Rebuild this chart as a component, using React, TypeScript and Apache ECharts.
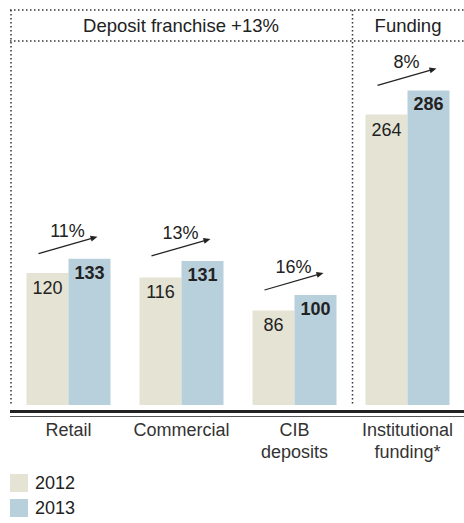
import React, { useEffect, useRef } from "react";
import * as echarts from "echarts";

const categories = ["Retail", "Commercial", "CIB\ndeposits", "Institutional\nfunding*"];
const values2012 = [120, 116, 86, 264];
const values2013 = [133, 131, 100, 286];
const growthLabels = ["11%", "13%", "16%", "8%"];
const groupTitles = ["Deposit franchise +13%", "Funding"];
const seriesNames = ["2012", "2013"];

const FONT = "'Liberation Sans', Arial, Helvetica, sans-serif";
const FS = 18;
const C2012 = "#e4e3d4";
const C2013 = "#b8cfdc";
const TXT = "#222";

export default function App() {
  const ref = useRef<HTMLDivElement>(null);
  useEffect(() => {
    if (!ref.current) return;
    const chart = echarts.init(ref.current, undefined, { renderer: "svg" });
    const dotted = { stroke: "#333", lineWidth: 1.5, lineDash: [1.5, 2.5] };
    const arrowData = categories.map((_, i) => [i, Math.max(values2012[i], values2013[i])]);
    chart.setOption({
      animation: false,
      textStyle: { fontFamily: FONT },
      grid: { left: 12, width: 454, top: 75, height: 330 },
      legend: {
        data: seriesNames,
        orient: "vertical",
        left: 10,
        top: 474,
        height: 60,
        padding: 0,
        itemWidth: 18,
        itemHeight: 18,
        itemGap: 7,
        icon: "rect",
        textStyle: { fontSize: FS, color: TXT, fontFamily: FONT, padding: [0, 0, 0, 2] },
      },
      xAxis: {
        type: "category",
        data: categories,
        axisLine: { show: false },
        axisTick: { show: false },
        axisLabel: {
          margin: 14,
          fontSize: FS,
          lineHeight: 22,
          color: "#333",
          fontFamily: FONT,
          interval: 0,
        },
      },
      yAxis: { type: "value", min: 0, max: 300, show: false, splitLine: { show: false } },
      series: [
        {
          name: seriesNames[0],
          type: "bar",
          data: values2012,
          barWidth: 42,
          barGap: "0%",
          itemStyle: { color: C2012 },
          label: {
            show: true,
            position: "insideTop",
            distance: 6,
            fontSize: FS,
            color: TXT,
            fontFamily: FONT,
          },
        },
        {
          name: seriesNames[1],
          type: "bar",
          data: values2013,
          barWidth: 42,
          barGap: "0%",
          itemStyle: { color: C2013 },
          label: {
            show: true,
            position: "insideTop",
            distance: 5,
            fontSize: FS,
            fontWeight: "bold",
            color: TXT,
            fontFamily: FONT,
          },
        },
        {
          type: "custom",
          silent: true,
          z: 10,
          data: arrowData,
          renderItem: (params: any, api: any) => {
            const p = api.coord([api.value(0), api.value(1)]);
            const cx = p[0];
            const y = p[1];
            const x1 = cx - 30, y1 = y - 5;
            const x2 = cx + 29, y2 = y - 22;
            const dx = x2 - x1, dy = y2 - y1;
            const len = Math.sqrt(dx * dx + dy * dy);
            const ux = dx / len, uy = dy / len;
            const px = -uy, py = ux;
            const hl = 7, hw = 3;
            const bx = x2 - ux * hl, by = y2 - uy * hl;
            return {
              type: "group",
              children: [
                {
                  type: "line",
                  shape: { x1, y1, x2: bx + ux * 1, y2: by + uy * 1 },
                  style: { stroke: TXT, lineWidth: 1.2 },
                },
                {
                  type: "polygon",
                  shape: {
                    points: [
                      [x2, y2],
                      [bx + px * hw, by + py * hw],
                      [bx - px * hw, by - py * hw],
                    ],
                  },
                  style: { fill: TXT },
                },
                {
                  type: "text",
                  x: cx - 1,
                  y: y - 28,
                  style: {
                    text: growthLabels[params.dataIndex],
                    align: "center",
                    verticalAlign: "middle",
                    fontSize: FS,
                    fontFamily: FONT,
                    fill: TXT,
                  },
                },
              ],
            };
          },
        },
      ],
      graphic: [
        { type: "line", shape: { x1: 10, y1: 10, x2: 464, y2: 10 }, style: dotted },
        { type: "line", shape: { x1: 10, y1: 41, x2: 464, y2: 41 }, style: dotted },
        { type: "line", shape: { x1: 11, y1: 10, x2: 11, y2: 405 }, style: dotted },
        { type: "line", shape: { x1: 352.5, y1: 10, x2: 352.5, y2: 405 }, style: dotted },
        { type: "line", shape: { x1: 10, y1: 411.5, x2: 464, y2: 411.5 }, style: { stroke: "#222", lineWidth: 3 } },
        { type: "line", shape: { x1: 10, y1: 416.5, x2: 464, y2: 416.5 }, style: { stroke: "#555", lineWidth: 1.2 } },
        {
          type: "text",
          x: 181,
          y: 25,
          style: { text: groupTitles[0], align: "center", verticalAlign: "middle", fontSize: 18.5, fontFamily: FONT, fill: TXT },
        },
        {
          type: "text",
          x: 408,
          y: 25,
          style: { text: groupTitles[1], align: "center", verticalAlign: "middle", fontSize: 18.5, fontFamily: FONT, fill: TXT },
        },
      ],
    });
    return () => chart.dispose();
  }, []);
  return (
    <div
      ref={ref}
      style={{ position: "fixed", left: 0, top: 0, width: 464, height: 523, background: "#fff" }}
    />
  );
}
